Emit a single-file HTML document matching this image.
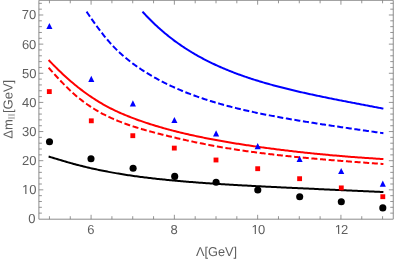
<!DOCTYPE html><html><head><meta charset="utf-8"><style>html,body{margin:0;padding:0;background:#fff;}svg{display:block;will-change:transform;}text{font-family:"Liberation Sans",sans-serif;}</style></head><body>
<svg width="395" height="260" viewBox="0 0 395 260">
<rect width="395" height="260" fill="#fff"/>
<g fill="none" stroke-width="2.0" stroke-linecap="butt" stroke-linejoin="round">
<path d="M142.47,11.60 L143.47,12.71 L144.48,13.80 L145.48,14.88 L146.48,15.94 L147.49,16.99 L148.49,18.02 L149.50,19.05 L150.50,20.06 L151.50,21.05 L152.51,22.04 L153.51,23.01 L154.52,23.97 L155.52,24.91 L156.52,25.85 L157.53,26.77 L158.53,27.69 L159.53,28.59 L160.54,29.48 L161.54,30.35 L162.55,31.22 L163.55,32.08 L164.55,32.92 L165.56,33.76 L166.56,34.58 L167.57,35.40 L168.57,36.20 L169.57,37.00 L170.58,37.78 L171.58,38.56 L172.59,39.32 L173.59,40.08 L174.59,40.83 L175.60,41.57 L176.60,42.30 L177.60,43.02 L178.61,43.73 L179.61,44.43 L180.62,45.13 L181.62,45.81 L182.62,46.49 L183.63,47.16 L184.63,47.82 L185.64,48.48 L186.64,49.12 L187.64,49.76 L188.65,50.39 L189.65,51.02 L190.66,51.64 L191.66,52.25 L192.66,52.85 L193.67,53.44 L194.67,54.03 L195.67,54.61 L196.68,55.19 L197.68,55.76 L198.69,56.32 L199.69,56.87 L200.69,57.42 L201.70,57.97 L202.70,58.50 L203.71,59.04 L204.71,59.56 L205.71,60.08 L206.72,60.59 L207.72,61.10 L208.73,61.60 L209.73,62.10 L210.73,62.59 L211.74,63.08 L212.74,63.56 L213.74,64.03 L214.75,64.50 L215.75,64.97 L216.76,65.43 L217.76,65.89 L218.76,66.34 L219.77,66.78 L220.77,67.22 L221.78,67.66 L222.78,68.09 L223.78,68.52 L224.79,68.94 L225.79,69.36 L226.80,69.78 L227.80,70.19 L228.80,70.60 L229.81,71.00 L230.81,71.40 L231.81,71.79 L232.82,72.18 L233.82,72.57 L234.83,72.95 L235.83,73.33 L236.83,73.71 L237.84,74.08 L238.84,74.45 L239.85,74.81 L240.85,75.17 L241.85,75.53 L242.86,75.88 L243.86,76.24 L244.87,76.58 L245.87,76.93 L246.87,77.27 L247.88,77.61 L248.88,77.94 L249.88,78.28 L250.89,78.61 L251.89,78.93 L252.90,79.26 L253.90,79.58 L254.90,79.89 L255.91,80.21 L256.91,80.52 L257.92,80.83 L258.92,81.14 L259.92,81.44 L260.93,81.75 L261.93,82.05 L262.94,82.34 L263.94,82.64 L264.94,82.93 L265.95,83.22 L266.95,83.51 L267.96,83.79 L268.96,84.08 L269.96,84.36 L270.97,84.63 L271.97,84.91 L272.97,85.19 L273.98,85.46 L274.98,85.73 L275.99,86.00 L276.99,86.26 L277.99,86.53 L279.00,86.79 L280.00,87.05 L281.01,87.31 L282.01,87.57 L283.01,87.82 L284.02,88.08 L285.02,88.33 L286.03,88.58 L287.03,88.83 L288.03,89.08 L289.04,89.32 L290.04,89.57 L291.04,89.81 L292.05,90.05 L293.05,90.29 L294.06,90.53 L295.06,90.76 L296.06,91.00 L297.07,91.23 L298.07,91.47 L299.08,91.70 L300.08,91.93 L301.08,92.16 L302.09,92.38 L303.09,92.61 L304.10,92.84 L305.10,93.06 L306.10,93.28 L307.11,93.51 L308.11,93.73 L309.11,93.95 L310.12,94.16 L311.12,94.38 L312.13,94.60 L313.13,94.82 L314.13,95.03 L315.14,95.24 L316.14,95.46 L317.15,95.67 L318.15,95.88 L319.15,96.09 L320.16,96.30 L321.16,96.51 L322.17,96.72 L323.17,96.93 L324.17,97.13 L325.18,97.34 L326.18,97.54 L327.18,97.75 L328.19,97.95 L329.19,98.16 L330.20,98.36 L331.20,98.56 L332.20,98.76 L333.21,98.96 L334.21,99.16 L335.22,99.36 L336.22,99.56 L337.22,99.76 L338.23,99.96 L339.23,100.16 L340.24,100.36 L341.24,100.55 L342.24,100.75 L343.25,100.95 L344.25,101.14 L345.25,101.34 L346.26,101.53 L347.26,101.73 L348.27,101.92 L349.27,102.12 L350.27,102.31 L351.28,102.50 L352.28,102.70 L353.29,102.89 L354.29,103.08 L355.29,103.28 L356.30,103.47 L357.30,103.66 L358.31,103.85 L359.31,104.05 L360.31,104.24 L361.32,104.43 L362.32,104.62 L363.32,104.81 L364.33,105.00 L365.33,105.20 L366.34,105.39 L367.34,105.58 L368.34,105.77 L369.35,105.96 L370.35,106.15 L371.36,106.34 L372.36,106.53 L373.36,106.72 L374.37,106.92 L375.37,107.11 L376.38,107.30 L377.38,107.49 L378.38,107.68 L379.39,107.87 L380.39,108.06 L381.40,108.25 L382.40,108.45 L383.40,108.64" stroke="#0000ff"/>
<path d="M86.58,11.60 L87.82,13.44 L89.06,15.26 L90.29,17.06 L91.53,18.85 L92.77,20.61 L94.00,22.36 L95.24,24.09 L96.48,25.80 L97.71,27.48 L98.95,29.14 L100.19,30.77 L101.42,32.38 L102.66,33.96 L103.90,35.52 L105.13,37.04 L106.37,38.54 L107.61,40.00 L108.84,41.44 L110.08,42.84 L111.32,44.21 L112.55,45.55 L113.79,46.85 L115.03,48.12 L116.26,49.37 L117.50,50.58 L118.74,51.76 L119.97,52.92 L121.21,54.05 L122.45,55.16 L123.68,56.24 L124.92,57.30 L126.16,58.33 L127.39,59.34 L128.63,60.34 L129.87,61.31 L131.10,62.26 L132.34,63.19 L133.58,64.11 L134.82,65.01 L136.05,65.89 L137.29,66.75 L138.53,67.60 L139.76,68.44 L141.00,69.26 L142.24,70.07 L143.47,70.87 L144.71,71.66 L145.95,72.43 L147.18,73.19 L148.42,73.94 L149.66,74.69 L150.89,75.42 L152.13,76.14 L153.37,76.85 L154.60,77.55 L155.84,78.24 L157.08,78.92 L158.31,79.59 L159.55,80.25 L160.79,80.90 L162.02,81.54 L163.26,82.18 L164.50,82.80 L165.73,83.42 L166.97,84.03 L168.21,84.63 L169.44,85.22 L170.68,85.80 L171.92,86.38 L173.15,86.95 L174.39,87.51 L175.63,88.06 L176.86,88.60 L178.10,89.14 L179.34,89.67 L180.58,90.20 L181.81,90.71 L183.05,91.22 L184.29,91.73 L185.52,92.22 L186.76,92.72 L188.00,93.20 L189.23,93.68 L190.47,94.15 L191.71,94.62 L192.94,95.08 L194.18,95.53 L195.42,95.98 L196.65,96.42 L197.89,96.86 L199.13,97.29 L200.36,97.72 L201.60,98.14 L202.84,98.55 L204.07,98.96 L205.31,99.37 L206.55,99.77 L207.78,100.17 L209.02,100.56 L210.26,100.95 L211.49,101.33 L212.73,101.71 L213.97,102.08 L215.20,102.45 L216.44,102.81 L217.68,103.18 L218.91,103.53 L220.15,103.89 L221.39,104.23 L222.62,104.58 L223.86,104.92 L225.10,105.26 L226.34,105.59 L227.57,105.92 L228.81,106.25 L230.05,106.57 L231.28,106.89 L232.52,107.21 L233.76,107.52 L234.99,107.83 L236.23,108.13 L237.47,108.44 L238.70,108.74 L239.94,109.03 L241.18,109.33 L242.41,109.62 L243.65,109.91 L244.89,110.19 L246.12,110.48 L247.36,110.76 L248.60,111.03 L249.83,111.31 L251.07,111.58 L252.31,111.85 L253.54,112.12 L254.78,112.38 L256.02,112.65 L257.25,112.91 L258.49,113.17 L259.73,113.42 L260.96,113.67 L262.20,113.93 L263.44,114.18 L264.67,114.42 L265.91,114.67 L267.15,114.91 L268.38,115.15 L269.62,115.39 L270.86,115.63 L272.09,115.87 L273.33,116.10 L274.57,116.33 L275.81,116.56 L277.04,116.79 L278.28,117.02 L279.52,117.25 L280.75,117.47 L281.99,117.69 L283.23,117.92 L284.46,118.14 L285.70,118.35 L286.94,118.57 L288.17,118.79 L289.41,119.00 L290.65,119.21 L291.88,119.43 L293.12,119.64 L294.36,119.85 L295.59,120.05 L296.83,120.26 L298.07,120.47 L299.30,120.67 L300.54,120.88 L301.78,121.08 L303.01,121.28 L304.25,121.48 L305.49,121.68 L306.72,121.88 L307.96,122.08 L309.20,122.27 L310.43,122.47 L311.67,122.67 L312.91,122.86 L314.14,123.05 L315.38,123.25 L316.62,123.44 L317.85,123.63 L319.09,123.82 L320.33,124.01 L321.57,124.20 L322.80,124.39 L324.04,124.58 L325.28,124.77 L326.51,124.95 L327.75,125.14 L328.99,125.33 L330.22,125.51 L331.46,125.70 L332.70,125.88 L333.93,126.06 L335.17,126.25 L336.41,126.43 L337.64,126.61 L338.88,126.80 L340.12,126.98 L341.35,127.16 L342.59,127.34 L343.83,127.52 L345.06,127.70 L346.30,127.88 L347.54,128.06 L348.77,128.24 L350.01,128.42 L351.25,128.60 L352.48,128.78 L353.72,128.96 L354.96,129.14 L356.19,129.32 L357.43,129.50 L358.67,129.68 L359.90,129.85 L361.14,130.03 L362.38,130.21 L363.61,130.39 L364.85,130.57 L366.09,130.74 L367.32,130.92 L368.56,131.10 L369.80,131.28 L371.04,131.46 L372.27,131.63 L373.51,131.81 L374.75,131.99 L375.98,132.17 L377.22,132.34 L378.46,132.52 L379.69,132.70 L380.93,132.88 L382.17,133.06 L383.40,133.24" stroke="#0000ff" stroke-dasharray="6.02 2.645"/>
<path d="M48.62,59.98 L50.01,61.45 L51.41,62.91 L52.80,64.35 L54.20,65.77 L55.59,67.17 L56.99,68.55 L58.38,69.92 L59.78,71.26 L61.17,72.59 L62.57,73.91 L63.96,75.20 L65.36,76.48 L66.75,77.74 L68.15,78.98 L69.54,80.20 L70.94,81.40 L72.33,82.59 L73.73,83.76 L75.12,84.91 L76.52,86.05 L77.91,87.16 L79.31,88.26 L80.70,89.34 L82.10,90.40 L83.49,91.45 L84.89,92.47 L86.28,93.48 L87.68,94.48 L89.07,95.45 L90.47,96.41 L91.86,97.35 L93.26,98.27 L94.65,99.17 L96.05,100.06 L97.44,100.93 L98.84,101.79 L100.23,102.63 L101.62,103.45 L103.02,104.26 L104.41,105.05 L105.81,105.82 L107.20,106.58 L108.60,107.32 L109.99,108.05 L111.39,108.76 L112.78,109.46 L114.18,110.14 L115.57,110.81 L116.97,111.46 L118.36,112.10 L119.76,112.73 L121.15,113.35 L122.55,113.95 L123.94,114.54 L125.34,115.12 L126.73,115.69 L128.13,116.25 L129.52,116.80 L130.92,117.35 L132.31,117.88 L133.71,118.41 L135.10,118.92 L136.50,119.44 L137.89,119.94 L139.29,120.44 L140.68,120.93 L142.08,121.41 L143.47,121.89 L144.87,122.36 L146.26,122.83 L147.66,123.29 L149.05,123.74 L150.45,124.19 L151.84,124.63 L153.24,125.06 L154.63,125.49 L156.03,125.92 L157.42,126.33 L158.82,126.75 L160.21,127.16 L161.61,127.56 L163.00,127.96 L164.40,128.35 L165.79,128.74 L167.19,129.12 L168.58,129.50 L169.98,129.87 L171.37,130.24 L172.77,130.60 L174.16,130.96 L175.56,131.32 L176.95,131.67 L178.35,132.02 L179.74,132.36 L181.14,132.70 L182.53,133.04 L183.93,133.37 L185.32,133.69 L186.72,134.02 L188.11,134.34 L189.51,134.65 L190.90,134.97 L192.30,135.28 L193.69,135.58 L195.09,135.88 L196.48,136.18 L197.88,136.48 L199.27,136.77 L200.67,137.06 L202.06,137.35 L203.46,137.63 L204.85,137.91 L206.25,138.19 L207.64,138.46 L209.04,138.73 L210.43,139.00 L211.83,139.27 L213.22,139.53 L214.62,139.79 L216.01,140.05 L217.40,140.31 L218.80,140.56 L220.19,140.81 L221.59,141.06 L222.98,141.30 L224.38,141.55 L225.77,141.79 L227.17,142.03 L228.56,142.26 L229.96,142.50 L231.35,142.73 L232.75,142.96 L234.14,143.19 L235.54,143.41 L236.93,143.64 L238.33,143.86 L239.72,144.08 L241.12,144.30 L242.51,144.52 L243.91,144.73 L245.30,144.94 L246.70,145.15 L248.09,145.36 L249.49,145.57 L250.88,145.78 L252.28,145.98 L253.67,146.18 L255.07,146.38 L256.46,146.58 L257.86,146.78 L259.25,146.98 L260.65,147.17 L262.04,147.37 L263.44,147.56 L264.83,147.75 L266.23,147.94 L267.62,148.13 L269.02,148.31 L270.41,148.50 L271.81,148.68 L273.20,148.86 L274.60,149.04 L275.99,149.22 L277.39,149.40 L278.78,149.57 L280.18,149.75 L281.57,149.92 L282.97,150.09 L284.36,150.26 L285.76,150.43 L287.15,150.60 L288.55,150.77 L289.94,150.93 L291.34,151.09 L292.73,151.26 L294.13,151.42 L295.52,151.58 L296.92,151.73 L298.31,151.89 L299.71,152.05 L301.10,152.20 L302.50,152.35 L303.89,152.50 L305.29,152.65 L306.68,152.80 L308.08,152.95 L309.47,153.09 L310.87,153.24 L312.26,153.38 L313.66,153.52 L315.05,153.66 L316.45,153.80 L317.84,153.94 L319.24,154.08 L320.63,154.21 L322.03,154.35 L323.42,154.48 L324.82,154.61 L326.21,154.74 L327.61,154.87 L329.00,155.00 L330.40,155.13 L331.79,155.25 L333.18,155.38 L334.58,155.50 L335.97,155.62 L337.37,155.74 L338.76,155.86 L340.16,155.98 L341.55,156.10 L342.95,156.21 L344.34,156.33 L345.74,156.44 L347.13,156.55 L348.53,156.66 L349.92,156.77 L351.32,156.88 L352.71,156.99 L354.11,157.09 L355.50,157.20 L356.90,157.30 L358.29,157.40 L359.69,157.51 L361.08,157.61 L362.48,157.71 L363.87,157.80 L365.27,157.90 L366.66,158.00 L368.06,158.09 L369.45,158.18 L370.85,158.28 L372.24,158.37 L373.64,158.46 L375.03,158.55 L376.43,158.64 L377.82,158.72 L379.22,158.81 L380.61,158.89 L382.01,158.98 L383.40,159.06" stroke="#ff0000"/>
<path d="M48.62,67.71 L50.01,69.28 L51.41,70.85 L52.80,72.40 L54.20,73.95 L55.59,75.49 L56.99,77.01 L58.38,78.51 L59.78,80.00 L61.17,81.48 L62.57,82.93 L63.96,84.36 L65.36,85.77 L66.75,87.16 L68.15,88.53 L69.54,89.87 L70.94,91.18 L72.33,92.47 L73.73,93.73 L75.12,94.96 L76.52,96.16 L77.91,97.33 L79.31,98.47 L80.70,99.58 L82.10,100.66 L83.49,101.72 L84.89,102.75 L86.28,103.75 L87.68,104.73 L89.07,105.69 L90.47,106.62 L91.86,107.52 L93.26,108.41 L94.65,109.27 L96.05,110.11 L97.44,110.93 L98.84,111.73 L100.23,112.51 L101.62,113.27 L103.02,114.01 L104.41,114.73 L105.81,115.44 L107.20,116.12 L108.60,116.79 L109.99,117.45 L111.39,118.09 L112.78,118.71 L114.18,119.32 L115.57,119.92 L116.97,120.50 L118.36,121.07 L119.76,121.62 L121.15,122.17 L122.55,122.70 L123.94,123.22 L125.34,123.73 L126.73,124.23 L128.13,124.72 L129.52,125.20 L130.92,125.67 L132.31,126.14 L133.71,126.59 L135.10,127.04 L136.50,127.48 L137.89,127.91 L139.29,128.33 L140.68,128.75 L142.08,129.17 L143.47,129.57 L144.87,129.97 L146.26,130.37 L147.66,130.76 L149.05,131.14 L150.45,131.52 L151.84,131.90 L153.24,132.27 L154.63,132.64 L156.03,133.01 L157.42,133.37 L158.82,133.73 L160.21,134.08 L161.61,134.44 L163.00,134.79 L164.40,135.14 L165.79,135.48 L167.19,135.83 L168.58,136.17 L169.98,136.51 L171.37,136.84 L172.77,137.17 L174.16,137.51 L175.56,137.83 L176.95,138.16 L178.35,138.48 L179.74,138.80 L181.14,139.12 L182.53,139.43 L183.93,139.75 L185.32,140.06 L186.72,140.36 L188.11,140.67 L189.51,140.97 L190.90,141.27 L192.30,141.56 L193.69,141.86 L195.09,142.15 L196.48,142.44 L197.88,142.72 L199.27,143.01 L200.67,143.29 L202.06,143.57 L203.46,143.84 L204.85,144.12 L206.25,144.39 L207.64,144.66 L209.04,144.92 L210.43,145.18 L211.83,145.44 L213.22,145.70 L214.62,145.96 L216.01,146.21 L217.40,146.46 L218.80,146.71 L220.19,146.95 L221.59,147.20 L222.98,147.44 L224.38,147.67 L225.77,147.91 L227.17,148.14 L228.56,148.37 L229.96,148.60 L231.35,148.82 L232.75,149.05 L234.14,149.27 L235.54,149.48 L236.93,149.70 L238.33,149.91 L239.72,150.12 L241.12,150.33 L242.51,150.53 L243.91,150.74 L245.30,150.94 L246.70,151.14 L248.09,151.33 L249.49,151.53 L250.88,151.72 L252.28,151.91 L253.67,152.10 L255.07,152.28 L256.46,152.46 L257.86,152.65 L259.25,152.83 L260.65,153.00 L262.04,153.18 L263.44,153.35 L264.83,153.52 L266.23,153.69 L267.62,153.86 L269.02,154.03 L270.41,154.19 L271.81,154.36 L273.20,154.52 L274.60,154.68 L275.99,154.84 L277.39,154.99 L278.78,155.15 L280.18,155.30 L281.57,155.45 L282.97,155.60 L284.36,155.75 L285.76,155.90 L287.15,156.05 L288.55,156.19 L289.94,156.34 L291.34,156.48 L292.73,156.62 L294.13,156.76 L295.52,156.90 L296.92,157.04 L298.31,157.17 L299.71,157.31 L301.10,157.44 L302.50,157.58 L303.89,157.71 L305.29,157.84 L306.68,157.97 L308.08,158.10 L309.47,158.23 L310.87,158.35 L312.26,158.48 L313.66,158.60 L315.05,158.73 L316.45,158.85 L317.84,158.97 L319.24,159.09 L320.63,159.21 L322.03,159.33 L323.42,159.45 L324.82,159.57 L326.21,159.69 L327.61,159.80 L329.00,159.92 L330.40,160.03 L331.79,160.15 L333.18,160.26 L334.58,160.37 L335.97,160.48 L337.37,160.60 L338.76,160.71 L340.16,160.82 L341.55,160.92 L342.95,161.03 L344.34,161.14 L345.74,161.25 L347.13,161.36 L348.53,161.46 L349.92,161.57 L351.32,161.67 L352.71,161.78 L354.11,161.88 L355.50,161.99 L356.90,162.09 L358.29,162.19 L359.69,162.29 L361.08,162.40 L362.48,162.50 L363.87,162.60 L365.27,162.70 L366.66,162.80 L368.06,162.90 L369.45,163.00 L370.85,163.10 L372.24,163.20 L373.64,163.29 L375.03,163.39 L376.43,163.49 L377.82,163.59 L379.22,163.68 L380.61,163.78 L382.01,163.88 L383.40,163.97" stroke="#ff0000" stroke-dasharray="6.02 2.645"/>
<path d="M48.62,156.56 L50.01,156.97 L51.41,157.39 L52.80,157.81 L54.20,158.23 L55.59,158.65 L56.99,159.07 L58.38,159.49 L59.78,159.91 L61.17,160.32 L62.57,160.73 L63.96,161.14 L65.36,161.55 L66.75,161.96 L68.15,162.36 L69.54,162.75 L70.94,163.14 L72.33,163.53 L73.73,163.91 L75.12,164.29 L76.52,164.66 L77.91,165.03 L79.31,165.39 L80.70,165.74 L82.10,166.09 L83.49,166.44 L84.89,166.78 L86.28,167.12 L87.68,167.45 L89.07,167.78 L90.47,168.10 L91.86,168.41 L93.26,168.73 L94.65,169.03 L96.05,169.34 L97.44,169.64 L98.84,169.93 L100.23,170.22 L101.62,170.51 L103.02,170.79 L104.41,171.06 L105.81,171.34 L107.20,171.60 L108.60,171.87 L109.99,172.13 L111.39,172.38 L112.78,172.64 L114.18,172.88 L115.57,173.13 L116.97,173.37 L118.36,173.60 L119.76,173.84 L121.15,174.07 L122.55,174.29 L123.94,174.51 L125.34,174.73 L126.73,174.94 L128.13,175.15 L129.52,175.36 L130.92,175.56 L132.31,175.76 L133.71,175.96 L135.10,176.16 L136.50,176.35 L137.89,176.54 L139.29,176.72 L140.68,176.90 L142.08,177.08 L143.47,177.26 L144.87,177.44 L146.26,177.61 L147.66,177.78 L149.05,177.94 L150.45,178.11 L151.84,178.27 L153.24,178.43 L154.63,178.59 L156.03,178.74 L157.42,178.89 L158.82,179.04 L160.21,179.19 L161.61,179.34 L163.00,179.48 L164.40,179.62 L165.79,179.76 L167.19,179.90 L168.58,180.04 L169.98,180.17 L171.37,180.31 L172.77,180.44 L174.16,180.57 L175.56,180.69 L176.95,180.82 L178.35,180.94 L179.74,181.07 L181.14,181.19 L182.53,181.31 L183.93,181.43 L185.32,181.54 L186.72,181.66 L188.11,181.77 L189.51,181.88 L190.90,181.99 L192.30,182.10 L193.69,182.21 L195.09,182.32 L196.48,182.43 L197.88,182.53 L199.27,182.63 L200.67,182.74 L202.06,182.84 L203.46,182.94 L204.85,183.04 L206.25,183.14 L207.64,183.23 L209.04,183.33 L210.43,183.42 L211.83,183.52 L213.22,183.61 L214.62,183.70 L216.01,183.79 L217.40,183.89 L218.80,183.97 L220.19,184.06 L221.59,184.15 L222.98,184.24 L224.38,184.33 L225.77,184.41 L227.17,184.50 L228.56,184.58 L229.96,184.66 L231.35,184.75 L232.75,184.83 L234.14,184.91 L235.54,184.99 L236.93,185.07 L238.33,185.15 L239.72,185.23 L241.12,185.31 L242.51,185.38 L243.91,185.46 L245.30,185.54 L246.70,185.61 L248.09,185.69 L249.49,185.77 L250.88,185.84 L252.28,185.91 L253.67,185.99 L255.07,186.06 L256.46,186.13 L257.86,186.21 L259.25,186.28 L260.65,186.35 L262.04,186.42 L263.44,186.49 L264.83,186.56 L266.23,186.63 L267.62,186.70 L269.02,186.77 L270.41,186.84 L271.81,186.91 L273.20,186.98 L274.60,187.05 L275.99,187.11 L277.39,187.18 L278.78,187.25 L280.18,187.32 L281.57,187.38 L282.97,187.45 L284.36,187.52 L285.76,187.58 L287.15,187.65 L288.55,187.71 L289.94,187.78 L291.34,187.85 L292.73,187.91 L294.13,187.98 L295.52,188.04 L296.92,188.11 L298.31,188.17 L299.71,188.23 L301.10,188.30 L302.50,188.36 L303.89,188.43 L305.29,188.49 L306.68,188.56 L308.08,188.62 L309.47,188.68 L310.87,188.75 L312.26,188.81 L313.66,188.87 L315.05,188.94 L316.45,189.00 L317.84,189.06 L319.24,189.13 L320.63,189.19 L322.03,189.25 L323.42,189.32 L324.82,189.38 L326.21,189.44 L327.61,189.50 L329.00,189.57 L330.40,189.63 L331.79,189.69 L333.18,189.76 L334.58,189.82 L335.97,189.88 L337.37,189.95 L338.76,190.01 L340.16,190.07 L341.55,190.13 L342.95,190.20 L344.34,190.26 L345.74,190.32 L347.13,190.39 L348.53,190.45 L349.92,190.51 L351.32,190.58 L352.71,190.64 L354.11,190.70 L355.50,190.77 L356.90,190.83 L358.29,190.89 L359.69,190.96 L361.08,191.02 L362.48,191.09 L363.87,191.15 L365.27,191.21 L366.66,191.28 L368.06,191.34 L369.45,191.41 L370.85,191.47 L372.24,191.54 L373.64,191.60 L375.03,191.66 L376.43,191.73 L377.82,191.79 L379.22,191.86 L380.61,191.92 L382.01,191.99 L383.40,192.06" stroke="#000"/>
</g>
<circle cx="49.5" cy="141.8" r="3.55" fill="#000"/>
<circle cx="91" cy="158.8" r="3.55" fill="#000"/>
<circle cx="133.1" cy="168.3" r="3.55" fill="#000"/>
<circle cx="174.7" cy="176.4" r="3.55" fill="#000"/>
<circle cx="216.1" cy="182.3" r="3.55" fill="#000"/>
<circle cx="257.8" cy="190" r="3.55" fill="#000"/>
<circle cx="299.7" cy="196.8" r="3.55" fill="#000"/>
<circle cx="341.3" cy="201.8" r="3.55" fill="#000"/>
<circle cx="382.8" cy="207.9" r="3.55" fill="#000"/>
<rect x="46.88" y="89.17" width="4.85" height="4.85" fill="#ff0000"/>
<rect x="88.88" y="118.38" width="4.85" height="4.85" fill="#ff0000"/>
<rect x="130.38" y="133.27" width="4.85" height="4.85" fill="#ff0000"/>
<rect x="171.88" y="145.67" width="4.85" height="4.85" fill="#ff0000"/>
<rect x="213.57" y="157.57" width="4.85" height="4.85" fill="#ff0000"/>
<rect x="255.27" y="166.27" width="4.85" height="4.85" fill="#ff0000"/>
<rect x="297.18" y="176.27" width="4.85" height="4.85" fill="#ff0000"/>
<rect x="338.88" y="185.47" width="4.85" height="4.85" fill="#ff0000"/>
<rect x="380.38" y="194.27" width="4.85" height="4.85" fill="#ff0000"/>
<path d="M46.35,29.10 L52.45,29.10 L49.40,22.90 Z" fill="#0000ff"/>
<path d="M88.25,82.00 L94.35,82.00 L91.30,75.80 Z" fill="#0000ff"/>
<path d="M129.85,106.40 L135.95,106.40 L132.90,100.20 Z" fill="#0000ff"/>
<path d="M171.35,123.10 L177.45,123.10 L174.40,116.90 Z" fill="#0000ff"/>
<path d="M213.05,136.40 L219.15,136.40 L216.10,130.20 Z" fill="#0000ff"/>
<path d="M254.65,149.30 L260.75,149.30 L257.70,143.10 Z" fill="#0000ff"/>
<path d="M296.55,162.10 L302.65,162.10 L299.60,155.90 Z" fill="#0000ff"/>
<path d="M338.15,174.10 L344.25,174.10 L341.20,167.90 Z" fill="#0000ff"/>
<path d="M379.75,186.80 L385.85,186.80 L382.80,180.60 Z" fill="#0000ff"/>
<g stroke="#8c8c8c" stroke-width="1.0" fill="none">
<path d="M38.9,0.3 L393.25,0.3 L393.25,219.2 L38.9,219.2 Z"/>
</g>
<g stroke="#7a7a7a" stroke-width="0.8" fill="none">
<path d="M49.45,219.2 v-3.0 M49.45,0.3 v3.0 M70.27,219.2 v-3.0 M70.27,0.3 v3.0 M91.09,219.2 v-4.4 M91.09,0.3 v4.4 M111.91,219.2 v-3.0 M111.91,0.3 v3.0 M132.73,219.2 v-3.0 M132.73,0.3 v3.0 M153.55,219.2 v-3.0 M153.55,0.3 v3.0 M174.37,219.2 v-4.4 M174.37,0.3 v4.4 M195.19,219.2 v-3.0 M195.19,0.3 v3.0 M216.01,219.2 v-3.0 M216.01,0.3 v3.0 M236.83,219.2 v-3.0 M236.83,0.3 v3.0 M257.65,219.2 v-4.4 M257.65,0.3 v4.4 M278.47,219.2 v-3.0 M278.47,0.3 v3.0 M299.29,219.2 v-3.0 M299.29,0.3 v3.0 M320.11,219.2 v-3.0 M320.11,0.3 v3.0 M340.93,219.2 v-4.4 M340.93,0.3 v4.4 M361.75,219.2 v-3.0 M361.75,0.3 v3.0 M382.57,219.2 v-3.0 M382.57,0.3 v3.0 M38.9,213.14 h3.0 M393.25,213.14 h-3.0 M38.9,207.31 h3.0 M393.25,207.31 h-3.0 M38.9,201.49 h3.0 M393.25,201.49 h-3.0 M38.9,195.66 h3.0 M393.25,195.66 h-3.0 M38.9,189.83 h4.4 M393.25,189.83 h-4.4 M38.9,184.00 h3.0 M393.25,184.00 h-3.0 M38.9,178.17 h3.0 M393.25,178.17 h-3.0 M38.9,172.35 h3.0 M393.25,172.35 h-3.0 M38.9,166.52 h3.0 M393.25,166.52 h-3.0 M38.9,160.69 h4.4 M393.25,160.69 h-4.4 M38.9,154.86 h3.0 M393.25,154.86 h-3.0 M38.9,149.03 h3.0 M393.25,149.03 h-3.0 M38.9,143.21 h3.0 M393.25,143.21 h-3.0 M38.9,137.38 h3.0 M393.25,137.38 h-3.0 M38.9,131.55 h4.4 M393.25,131.55 h-4.4 M38.9,125.72 h3.0 M393.25,125.72 h-3.0 M38.9,119.89 h3.0 M393.25,119.89 h-3.0 M38.9,114.07 h3.0 M393.25,114.07 h-3.0 M38.9,108.24 h3.0 M393.25,108.24 h-3.0 M38.9,102.41 h4.4 M393.25,102.41 h-4.4 M38.9,96.58 h3.0 M393.25,96.58 h-3.0 M38.9,90.75 h3.0 M393.25,90.75 h-3.0 M38.9,84.93 h3.0 M393.25,84.93 h-3.0 M38.9,79.10 h3.0 M393.25,79.10 h-3.0 M38.9,73.27 h4.4 M393.25,73.27 h-4.4 M38.9,67.44 h3.0 M393.25,67.44 h-3.0 M38.9,61.61 h3.0 M393.25,61.61 h-3.0 M38.9,55.79 h3.0 M393.25,55.79 h-3.0 M38.9,49.96 h3.0 M393.25,49.96 h-3.0 M38.9,44.13 h4.4 M393.25,44.13 h-4.4 M38.9,38.30 h3.0 M393.25,38.30 h-3.0 M38.9,32.47 h3.0 M393.25,32.47 h-3.0 M38.9,26.65 h3.0 M393.25,26.65 h-3.0 M38.9,20.82 h3.0 M393.25,20.82 h-3.0 M38.9,14.99 h4.4 M393.25,14.99 h-4.4 M38.9,9.16 h3.0 M393.25,9.16 h-3.0 M38.9,3.33 h3.0 M393.25,3.33 h-3.0"/>
</g>
<g fill="#5e5e5e" font-size="13px" transform="matrix(1 0 0.001 1 0 0)">
<text x="35.3" y="223.37" text-anchor="end">0</text>
<text x="21.84" y="194.23">1</text><rect x="22.04" y="192.91" width="3.07" height="1.87" fill="#fff"/><rect x="26.26" y="192.91" width="2.78" height="1.87" fill="#fff"/>
<text x="29.07" y="194.23">0</text>
<text x="36.3" y="165.09" text-anchor="end">20</text>
<text x="36.3" y="135.95" text-anchor="end">30</text>
<text x="36.3" y="106.81" text-anchor="end">40</text>
<text x="36.3" y="77.67" text-anchor="end">50</text>
<text x="36.3" y="48.53" text-anchor="end">60</text>
<text x="36.3" y="19.39" text-anchor="end">70</text>
<text x="90.69" y="234.15" text-anchor="middle">6</text>
<text x="173.97" y="234.15" text-anchor="middle">8</text>
<text x="251.22" y="234.15">1</text><rect x="251.42" y="232.83" width="3.07" height="1.87" fill="#fff"/><rect x="255.64" y="232.83" width="2.78" height="1.87" fill="#fff"/>
<text x="257.75" y="234.15">0</text>
<text x="334.60" y="234.15">1</text><rect x="334.80" y="232.83" width="3.07" height="1.87" fill="#fff"/><rect x="339.02" y="232.83" width="2.78" height="1.87" fill="#fff"/>
<text x="340.83" y="234.15">2</text>
</g>
<g fill="#5e5e5e" font-size="12.75px" transform="matrix(1 0 0.001 1 0 0)">
<text x="195.8" y="255.8">&#923;[GeV]</text>
<text font-size="13px" transform="translate(12.3,138.7) rotate(-90)">&#916;m<tspan font-family="Liberation Serif" font-size="9.2px" dy="2" dx="-0.4" fill-opacity="0.7">II</tspan><tspan dy="-2" dx="0.4">[GeV]</tspan></text>
</g>
</svg></body></html>
